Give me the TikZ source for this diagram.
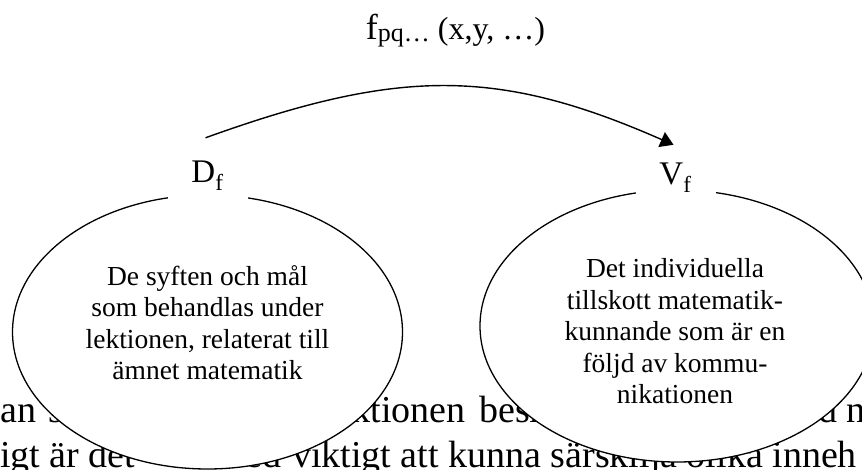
\documentclass[tikz,border=0pt]{standalone}
\usepackage{fontspec}
\setmainfont{Liberation Serif}
\usetikzlibrary{shapes.geometric,arrows.meta}

\begin{document}
\begin{tikzpicture}[x=1pt, y=-1pt,
    ell/.style={draw=black, line width=1.3pt, fill=white, ellipse,
                minimum width=390pt, minimum height=274pt, inner sep=0pt},
    elltxt/.style={align=center, inner sep=0pt,
                   font=\fontsize{27.5}{31.5}\selectfont},
    setlab/.style={fill=white, minimum width=80pt, minimum height=50pt,
                   inner sep=0pt, font=\fontsize{33}{38}\selectfont},
    bgtxt/.style={inner sep=0pt, font=\fontsize{38}{45}\selectfont},
    arr/.style={-{Triangle[length=13pt,width=16pt]}, line width=1.4pt}
]
\useasboundingbox (0,0) rectangle (862,470);
\clip (0,0) rectangle (862,470);

% running text of the page behind the figure
\node[bgtxt, anchor=base west] (bga) at (0,422) {an};
\node[bgtxt, anchor=base west] (bgb) at (48,422) {se};
\node[bgtxt, anchor=base east] (bgc) at (466,422) {lektionen};
\node[bgtxt, anchor=base west] (bgd) at (479,422) {beskrivas};
\node[bgtxt, anchor=base east] (bge) at (838,422) {med};
\node[bgtxt, anchor=base west] (bgf) at (846,422) {n};
\node[bgtxt, anchor=base west] (bgg) at (0,467) {igt är det};
\node[bgtxt, anchor=base east] (bgh) at (282,467) {därmed};
\node[bgtxt, anchor=base west] (bgi) at (292,467) {viktigt att kunna särskilja olika inneh};

% domain and value set
\node[ell] (dom) at (207.5,332) {};
\node[ell, minimum width=394pt, minimum height=272pt] (vmd) at (677,326) {};
\node[elltxt] (domtxt) at (207.5,322.5) {De syften och mål\\som behandlas under\\lektionen, relaterat till\\ämnet matematik};
\node[elltxt] (vmdtxt) at (675,331.5) {Det individuella\\tillskott matematik-\\kunnande som är en\\följd av kommu-\\nikationen};

\node[setlab] (dlab) at (207.5,176) {D\textsubscript{f}};
\node[setlab] (vlab) at (675.5,178) {V\textsubscript{f}};

% the function
\draw[arr] ([xshift=-2pt,yshift=13pt]dlab.north)
    .. controls +(194,-70) and +(-175,-77) .. ([xshift=-2pt,yshift=8pt]vlab.north);
\node[anchor=base, inner sep=0pt] (ftop) at (455.5,40)
    {\fontsize{36}{40}\selectfont f\fontsize{26}{30}\selectfont\raisebox{-2pt}{pq…}\fontsize{32}{36}\selectfont\ (x,y,\ …)};
\end{tikzpicture}
\end{document}
